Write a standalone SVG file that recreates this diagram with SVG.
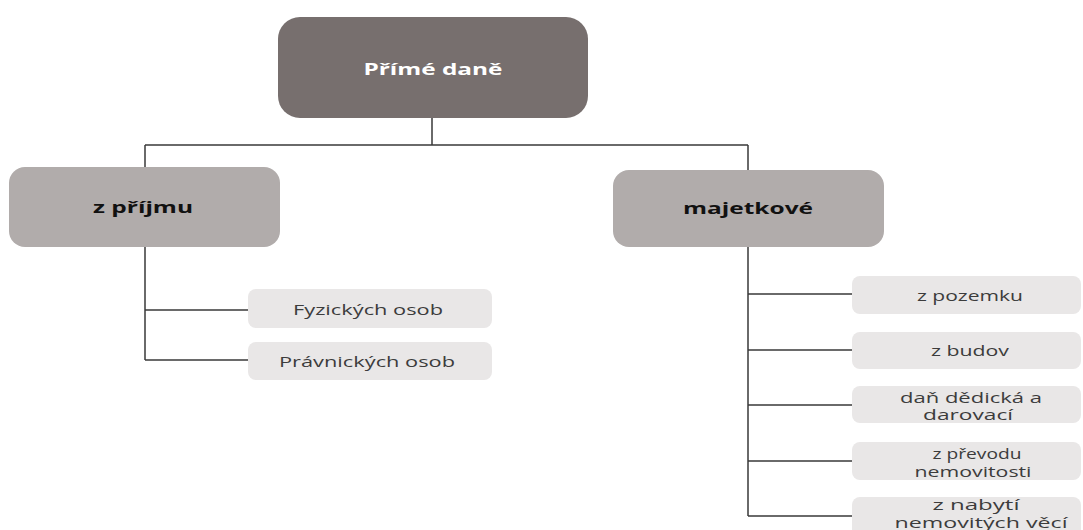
<svg xmlns="http://www.w3.org/2000/svg" width="1083" height="530" viewBox="0 0 1083 530">
<style>
.c{fill:none;stroke:#3a3a3a;stroke-width:1.5}
.t1{fill:#776f6e}
.t2{fill:#b1acab}
.t3{fill:#e9e7e7}
text{font-family:"Open Sans","Liberation Sans",sans-serif;text-anchor:middle;dominant-baseline:central}
.w{fill:#ffffff;font-weight:bold;font-size:16px}
.b{fill:#111111;font-weight:bold;font-size:16px}
.l{fill:#3c3c3c;font-size:14px}
</style>
<rect width="1083" height="530" fill="#ffffff"/>
<g id="connectors">
<path class="c" d="M432 118V145M145 145H748M145 145V167M748 145V170"/>
<path class="c" d="M145 247V360M145 310H248M145 360H248"/>
<path class="c" d="M748 247V516M748 294H852M748 350H852M748 405H852M748 461H852M748 516H852"/>
</g>
<g id="n-prime"><rect class="t1" x="278" y="17" width="310" height="101" rx="22"/><text class="w" x="433" y="69" textLength="139" lengthAdjust="spacingAndGlyphs">Přímé daně</text></g>
<g id="n-prijmu"><rect class="t2" x="9" y="167" width="271" height="80" rx="16"/><text class="b" x="143" y="207" textLength="100" lengthAdjust="spacingAndGlyphs">z příjmu</text></g>
<g id="n-majetkove"><rect class="t2" x="613" y="170" width="271" height="77" rx="16"/><text class="b" x="748" y="208" textLength="130" lengthAdjust="spacingAndGlyphs">majetkové</text></g>
<g id="n-fyz"><rect class="t3" x="248" y="289" width="244" height="39" rx="8"/><text class="l" x="368" y="309" textLength="150" lengthAdjust="spacingAndGlyphs">Fyzických osob</text></g>
<g id="n-prav"><rect class="t3" x="248" y="342" width="244" height="38" rx="8"/><text class="l" x="367" y="361" textLength="176" lengthAdjust="spacingAndGlyphs">Právnických osob</text></g>
<g id="n-pozemku"><rect class="t3" x="852" y="276" width="229" height="38" rx="8"/><text class="l" x="970" y="295" textLength="106" lengthAdjust="spacingAndGlyphs">z pozemku</text></g>
<g id="n-budov"><rect class="t3" x="852" y="332" width="229" height="37" rx="8"/><text class="l" x="970" y="350" textLength="78" lengthAdjust="spacingAndGlyphs">z budov</text></g>
<g id="n-dan"><rect class="t3" x="852" y="386" width="229" height="37" rx="8"/><text class="l" x="971" y="397" textLength="142" lengthAdjust="spacingAndGlyphs">daň dědická a</text><text class="l" x="968" y="414" textLength="90" lengthAdjust="spacingAndGlyphs">darovací</text></g>
<g id="n-prevodu"><rect class="t3" x="852" y="442" width="229" height="38" rx="8"/><text class="l" x="977" y="453" textLength="89" lengthAdjust="spacingAndGlyphs">z převodu</text><text class="l" x="973" y="471" textLength="117" lengthAdjust="spacingAndGlyphs">nemovitosti</text></g>
<g id="n-nabyti"><rect class="t3" x="852" y="497" width="229" height="45" rx="8"/><text class="l" x="976" y="504" textLength="87" lengthAdjust="spacingAndGlyphs">z nabytí</text><text class="l" x="981" y="522" textLength="173" lengthAdjust="spacingAndGlyphs">nemovitých  věcí</text></g>
</svg>
